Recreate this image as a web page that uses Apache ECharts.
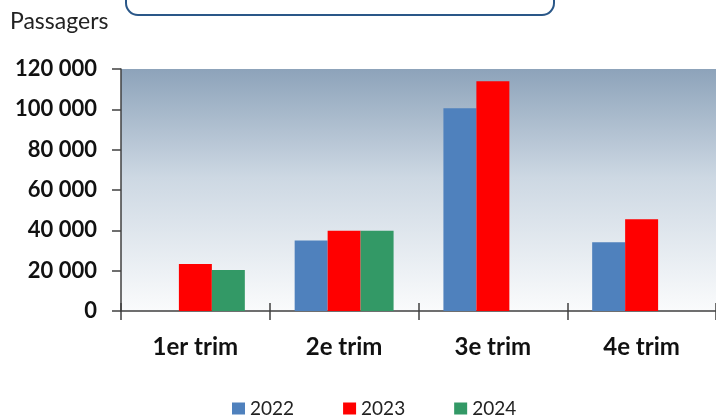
<!DOCTYPE html>
<html><head><meta charset="utf-8">
<script src="https://cdn.jsdelivr.net/npm/echarts@6/dist/echarts.min.js"></script>
<style>html,body{margin:0;padding:0;background:#fff}#c{width:716px;height:416px}</style>
</head><body><div id="c"></div>
<script>
const categories = ['1er trim', '2e trim', '3e trim', '4e trim'];
const years = ['2022', '2023', '2024'];
const s2022 = [null, 34900, 100500, 34100];
const s2023 = [23300, 39800, 113900, 45500];
const s2024 = [20300, 39800, null, null];
const yTicks = [0, 20000, 40000, 60000, 80000, 100000, 120000];
const colors = ['#4f81bd', '#ff0000', '#339966'];
const FONT = 'Lato';

const chart = echarts.init(document.getElementById('c'), null, {renderer: 'canvas'});
const fmt = v => String(v).replace(/\B(?=(\d{3})+(?!\d))/g, ' ');
const mk = (name, data, i) => ({
  name, type: 'bar', data, barGap: 0, barCategoryGap: '33.5%',
  itemStyle: {color: colors[i]}, xAxisIndex: 0, yAxisIndex: 0
});
chart.setOption({
  animation: false,
  textStyle: {fontFamily: FONT},
  grid: {left: 121, right: -1, top: 69, bottom: 105, show: true, borderWidth: 0,
    backgroundColor: new echarts.graphic.LinearGradient(0, 0, 0, 1, [
      {offset: 0, color: '#8da3ba'}, {offset: 0.45, color: '#cdd8e3'}, {offset: 1, color: '#fafbfc'}])},
  legend: {data: years, left: 227, top: 394, itemWidth: 13, itemHeight: 12, itemGap: 49,
    icon: 'rect', textStyle: {fontSize: 19, color: '#222', fontFamily: FONT}},
  xAxis: [{type: 'category', data: categories,
    axisLine: {lineStyle: {color: '#404040', width: 1.5}},
    axisTick: {show: true, length: 9, lineStyle: {color: '#404040', width: 1.5}},
    axisLabel: {fontSize: 24, fontWeight: 'bold', color: '#111', margin: 24, fontFamily: FONT}},
    {type: 'category', data: categories, position: 'bottom', gridIndex: 0,
    axisLine: {show: false}, axisTick: {show: true, inside: true, length: 8, lineStyle: {color: '#404040', width: 1.5}},
    axisLabel: {show: false}}],
  yAxis: {type: 'value', min: 0, max: 120000, interval: 20000,
    splitLine: {show: false},
    axisLine: {show: true, lineStyle: {color: '#404040', width: 1.5}},
    axisTick: {show: true, length: 9, lineStyle: {color: '#404040', width: 1.5}},
    axisLabel: {fontSize: 22, fontWeight: 'bold', color: '#111', margin: 24, fontFamily: FONT,
      formatter: v => yTicks.includes(v) ? fmt(v) : ''}},
  series: [mk(years[0], s2022, 0), mk(years[1], s2023, 1), mk(years[2], s2024, 2)],
  graphic: [
    {type: 'rect', left: 125, top: -22, shape: {width: 428, height: 36, r: 12},
      style: {fill: '#fff', stroke: '#2a5788', lineWidth: 2}},
    {type: 'text', left: 10, top: 10, style: {text: 'Passagers', fontSize: 23, fill: '#222', fontFamily: FONT}}
  ]
});
</script></body></html>
